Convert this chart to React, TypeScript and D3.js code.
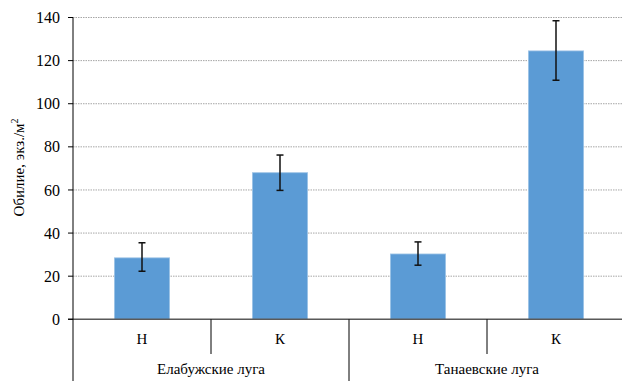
import React from 'react';
import * as d3 from 'd3';

const groups = ['Елабужские луга', 'Танаевские луга'];
const subLabels = ['Н', 'К', 'Н', 'К'];
const values = [28.5, 68, 30.3, 124.5];
const errLow = [22.3, 59.8, 25.1, 110.9];
const errHigh = [35.5, 76.2, 35.9, 138.5];
const yTicks = [0, 20, 40, 60, 80, 100, 120, 140];

const width = 622;
const height = 381;
const font = "'Times New Roman', Times, Tinos, 'Liberation Serif', 'DejaVu Serif', 'Noto Serif', serif";

export default function App() {
  const left = 73;
  const right = 625;
  const x = d3
    .scaleBand<number>()
    .domain(values.map((_, i) => i))
    .range([left, right])
    .paddingInner(0.6)
    .paddingOuter(0.3);
  const step = x.step();
  const y = d3.scaleLinear().domain([0, 140]).range([319.3, 17.5]);
  const base = y(0);
  const txt = { fontFamily: font };

  return (
    <svg
      width={width}
      height={height}
      style={{ position: 'absolute', left: 0, top: 0, background: '#fff', fontFamily: font }}
    >
      {/* Grid lines */}
      {yTicks.filter(t => t > 0).map(t => (
        <line
          key={'g' + t}
          x1={left}
          x2={width}
          y1={y(t)}
          y2={y(t)}
          stroke="#a6a6a6"
          strokeWidth={1}
          strokeDasharray="1.5,1"
        />
      ))}

      {/* Bars */}
      {values.map((v, i) => (
        <rect
          key={'b' + i}
          x={x(i)}
          y={y(v)}
          width={x.bandwidth()}
          height={base - y(v)}
          fill="#5b9bd5"
          stroke="#9dc3e6"
          strokeWidth={0.8}
        />
      ))}

      {/* Error bars */}
      {values.map((_, i) => {
        const cx = (x(i) ?? 0) + x.bandwidth() / 2;
        return (
          <g key={'e' + i} stroke="#111" strokeWidth={1.5}>
            <line x1={cx} x2={cx} y1={y(errHigh[i])} y2={y(errLow[i])} />
            <line x1={cx - 3.5} x2={cx + 3.5} y1={y(errHigh[i])} y2={y(errHigh[i])} />
            <line x1={cx - 3.5} x2={cx + 3.5} y1={y(errLow[i])} y2={y(errLow[i])} />
          </g>
        );
      })}

      {/* Baseline */}
      <line x1={68} x2={width} y1={base} y2={base} stroke="#595959" strokeWidth={1.5} />

      {/* Y axis */}
      <line x1={left} x2={left} y1={y(140)} y2={height} stroke="#000" strokeWidth={1} />
      {yTicks.map(t => (
        <g key={'t' + t}>
          <line x1={68} x2={left} y1={y(t)} y2={y(t)} stroke="#000" strokeWidth={1} />
          <text
            x={60}
            y={y(t)}
            dy="0.35em"
            textAnchor="end"
            fontSize={16}
            fill="#000"
            style={txt}
          >
            {t}
          </text>
        </g>
      ))}
      <text
        transform={`translate(24,${y(70) - 1}) rotate(-90)`}
        textAnchor="middle"
        fontSize={15}
        fill="#000"
        style={txt}
      >
        Обилие, экз./м<tspan fontSize={10} dy={-6}>2</tspan>
      </text>

      {/* Category axis */}
      {subLabels.map((s, i) => (
        <text
          key={'s' + i}
          x={(x(i) ?? 0) + x.bandwidth() / 2}
          y={339}
          dy="0.35em"
          textAnchor="middle"
          fontSize={15}
          fill="#000"
          style={txt}
        >
          {s}
        </text>
      ))}
      {[1, 3].map(k => (
        <line
          key={'st' + k}
          x1={left + step * k}
          x2={left + step * k}
          y1={base}
          y2={354}
          stroke="#000"
          strokeWidth={1}
        />
      ))}
      <line
        x1={left + step * 2}
        x2={left + step * 2}
        y1={base}
        y2={height}
        stroke="#000"
        strokeWidth={1}
      />
      {groups.map((g, gi) => (
        <text
          key={'gr' + gi}
          x={left + step * (gi * 2 + 1)}
          y={369}
          dy="0.35em"
          textAnchor="middle"
          fontSize={15}
          fill="#000"
          style={txt}
        >
          {g}
        </text>
      ))}
    </svg>
  );
}
